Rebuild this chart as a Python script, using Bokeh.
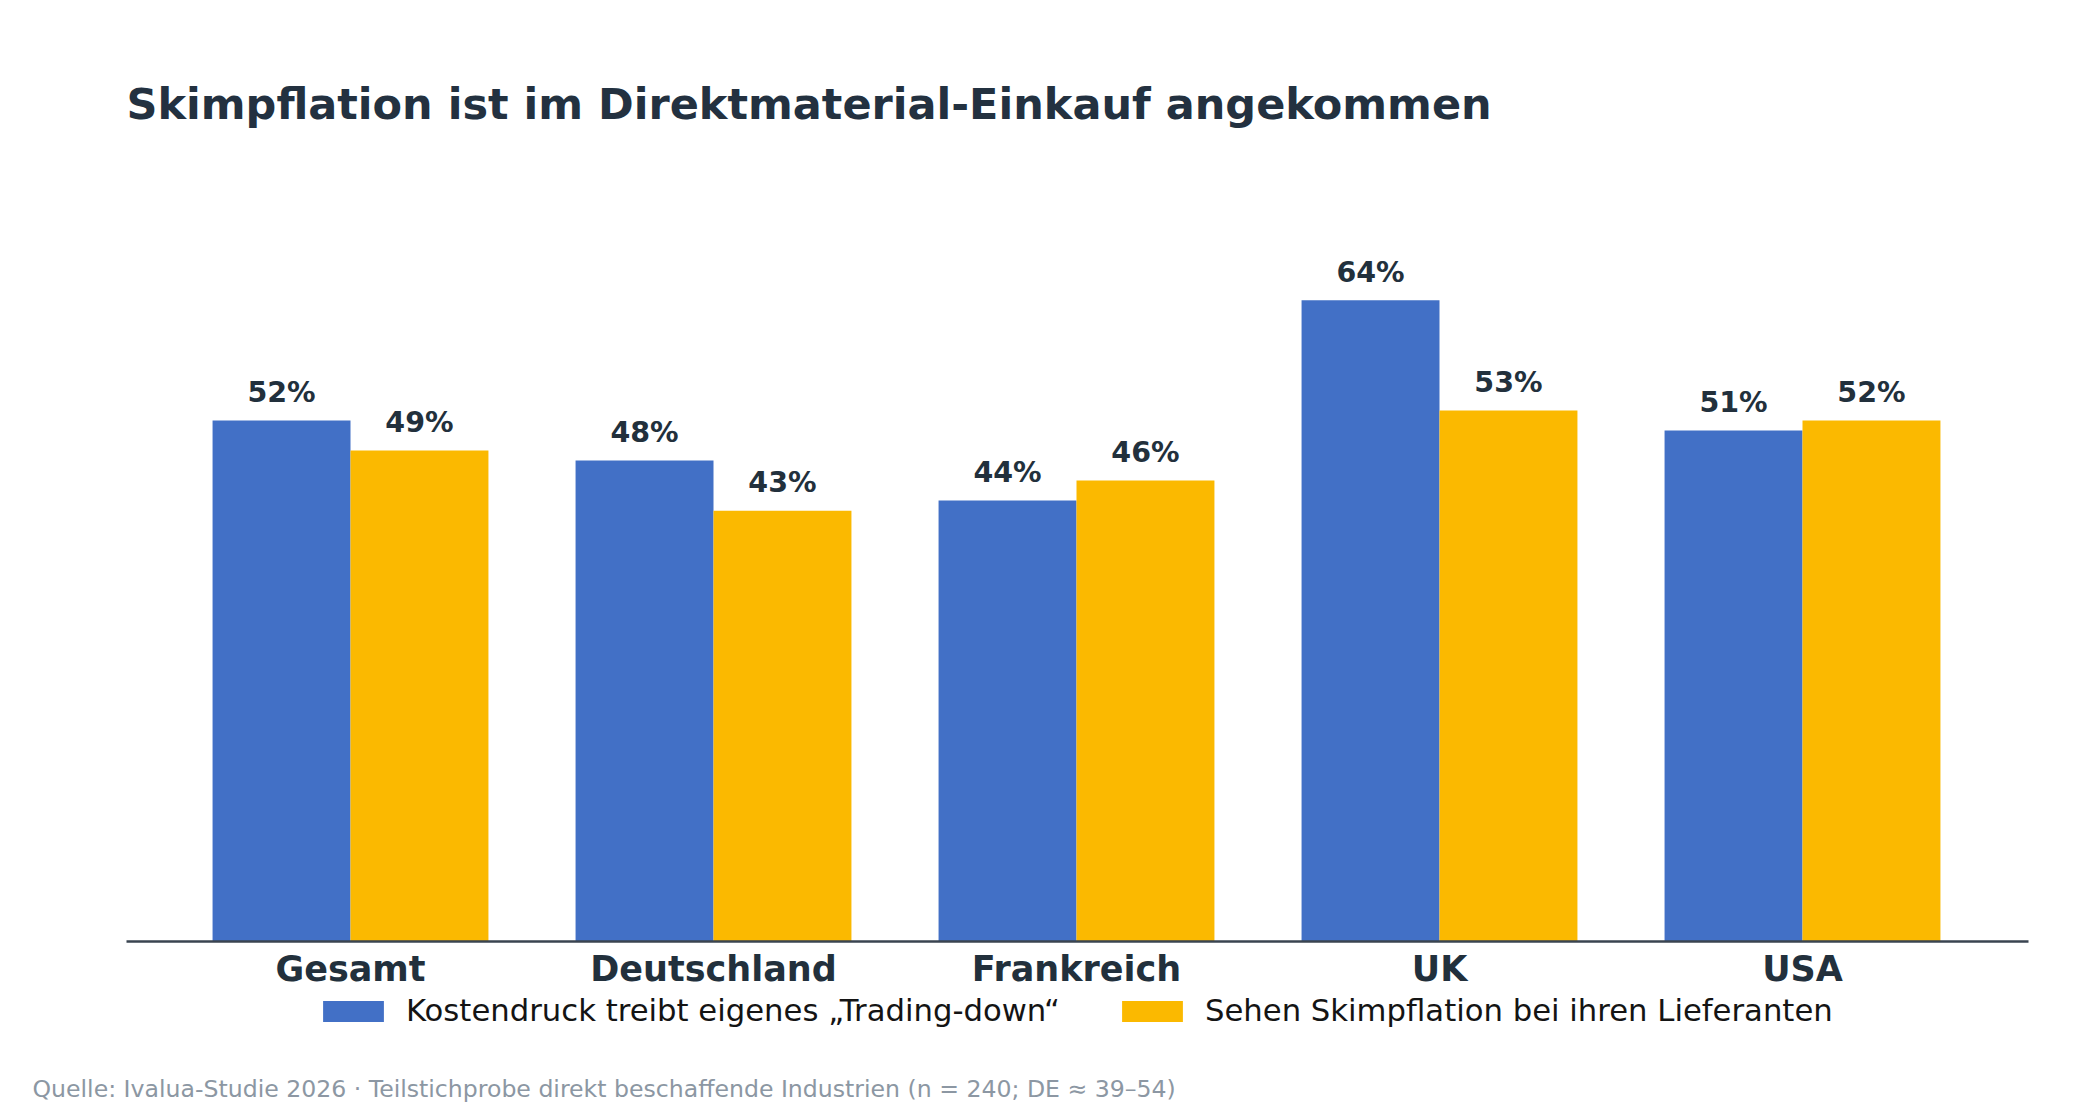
from bokeh.plotting import figure
from bokeh.models import ColumnDataSource, Legend, LegendItem, Label, FixedTicker
from bokeh.transform import dodge
from bokeh.embed import file_html
from bokeh.resources import INLINE

categories = ["Gesamt", "Deutschland", "Frankreich", "UK", "USA"]
trading_down = [52, 48, 44, 64, 51]
skimpflation = [49, 43, 46, 53, 52]
series_names = ["Kostendruck treibt eigenes \u201eTrading-down\u201c",
                "Sehen Skimpflation bei ihren Lieferanten"]
title_text = "Skimpflation ist im Direktmaterial-Einkauf angekommen"
source_text = "Quelle: Ivalua-Studie 2026 \u00b7 Teilstichprobe direkt beschaffende Industrien (n = 240; DE \u2248 39\u201354)"

BLUE = "#4270C6"
YELLOW = "#FBB900"
DARK = "#22303C"
FONT = "DejaVu Sans"

# canvas geometry (pixels)
W, H = 2100, 1120
PX_PER_CAT = 363.0
FIRST_CENTER_PX = 350.0
AXIS_Y_PX = 941.0          # from top
PX_PER_PCT = 10.02
MID = 0.346                # baseline -> middle offset (em)

x_start = -FIRST_CENTER_PX / PX_PER_CAT
x_end = (W - FIRST_CENTER_PX) / PX_PER_CAT
y_end = AXIS_Y_PX / PX_PER_PCT
y_start = -(H - AXIS_Y_PX) / PX_PER_PCT

idx = list(range(len(categories)))
bw = 0.38
src = ColumnDataSource(dict(
    x=idx,
    a=trading_down,
    b=skimpflation,
    la=[f"{v}%" for v in trading_down],
    lb=[f"{v}%" for v in skimpflation],
))

p = figure(width=W, height=H, x_range=(x_start, x_end), y_range=(y_start, y_end),
           output_backend="svg", toolbar_location=None,
           min_border_left=0, min_border_right=0,
           min_border_top=0, min_border_bottom=0)
p.title.visible = False
p.outline_line_color = None
p.background_fill_color = "white"
p.border_fill_color = "white"
p.grid.visible = False
p.yaxis.visible = False

ra = p.vbar(x=dodge("x", -bw / 2), top="a", width=bw, bottom=0, source=src,
            fill_color=BLUE, line_color=None)
rb = p.vbar(x=dodge("x", bw / 2), top="b", width=bw, bottom=0, source=src,
            fill_color=YELLOW, line_color=None)

LBL_FS = 28.5
for xcol, ycol, tcol in ((dodge("x", -bw / 2), "a", "la"), (dodge("x", bw / 2), "b", "lb")):
    p.text(x=xcol, y=ycol, text=tcol, source=src,
           text_align="center", text_baseline="middle",
           y_offset=-(18 + MID * LBL_FS),
           text_font_size=f"{LBL_FS}px", text_font_style="bold", text_color=DARK,
           text_font={"value": FONT})

xa = p.xaxis[0]
xa.fixed_location = 0
xa.bounds = ((126 - FIRST_CENTER_PX) / PX_PER_CAT, (2028 - FIRST_CENTER_PX) / PX_PER_CAT)
xa.ticker = FixedTicker(ticks=idx)
xa.major_label_overrides = {i: c for i, c in zip(idx, categories)}
xa.major_tick_line_color = None
xa.minor_tick_line_color = None
xa.axis_line_color = "#3A4450"
xa.axis_line_width = 2.5
xa.major_label_text_font = FONT
xa.major_label_text_font_size = "35px"
xa.major_label_text_font_style = "bold"
xa.major_label_text_color = DARK
xa.major_label_standoff = 1

legend = Legend(items=[LegendItem(label=series_names[0], renderers=[ra]),
                       LegendItem(label=series_names[1], renderers=[rb])],
                orientation="horizontal", location=(315, 92),
                glyph_width=76, glyph_height=26, label_standoff=15, spacing=54,
                label_text_font=FONT, label_text_font_size="30.7px",
                label_text_color="#141414", border_line_color=None,
                background_fill_alpha=0, padding=0, margin=0)
p.add_layout(legend)

TITLE_FS = 43
p.add_layout(Label(x=126, y=H - (118 - MID * TITLE_FS), x_units="screen", y_units="screen",
                   text=title_text, text_font=FONT, text_font_size=f"{TITLE_FS}px",
                   text_font_style="bold", text_color="#233140",
                   text_baseline="middle"))

SRC_FS = 23.6
p.add_layout(Label(x=32, y=H - (1097 - MID * SRC_FS), x_units="screen", y_units="screen",
                   text=source_text, text_font=FONT, text_font_size=f"{SRC_FS}px",
                   text_color="#8C97A3", text_baseline="middle"))

open("out.html", "w").write(file_html(p, INLINE))
